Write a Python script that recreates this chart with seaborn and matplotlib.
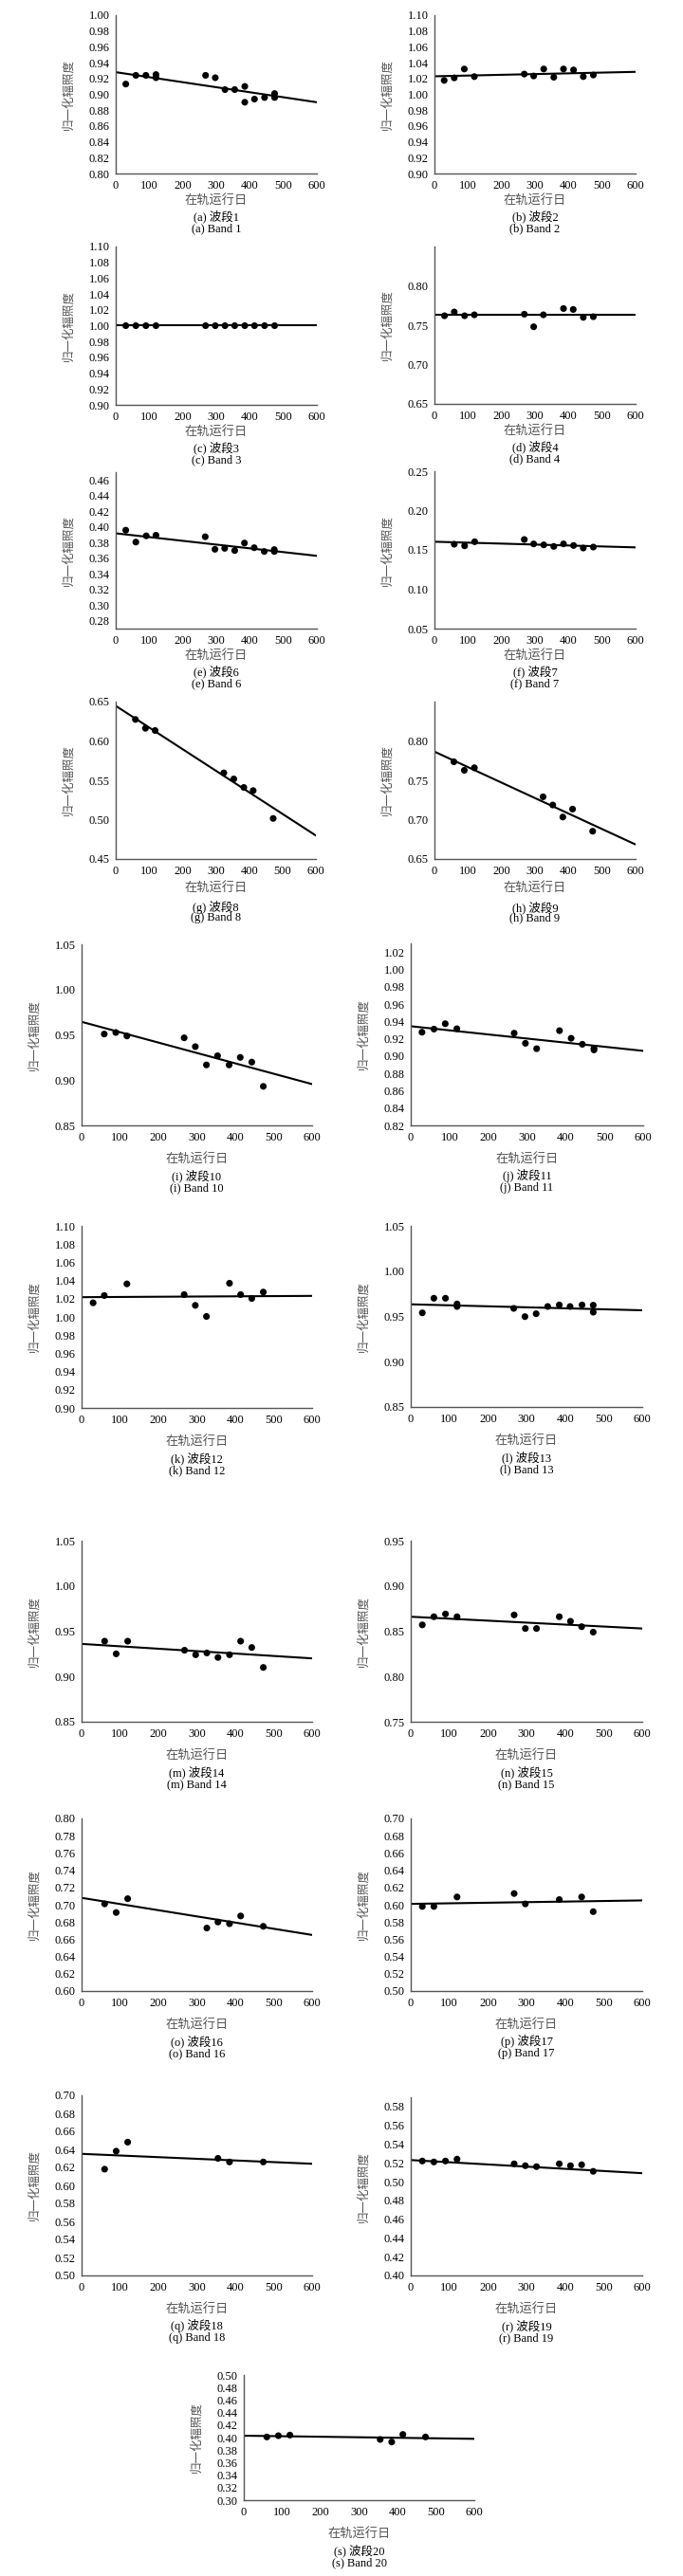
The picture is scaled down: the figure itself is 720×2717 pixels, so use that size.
import matplotlib
matplotlib.use("Agg")
import matplotlib.pyplot as plt
import seaborn as sns
import pandas as pd

sns.set_theme(style="white")
plt.rcParams['font.family'] = ['Liberation Serif', 'Noto Sans CJK SC', 'DejaVu Sans']

# ---------------- data ----------------
days_b1 = [30, 60, 90, 120, 120, 268, 297, 326, 355, 385, 385, 414, 444, 474, 474]
irr_b1 = [0.913, 0.924, 0.924, 0.925, 0.921, 0.924, 0.921, 0.906, 0.906, 0.910, 0.890, 0.894, 0.896, 0.901, 0.896]
days_b2 = [29, 59, 89, 119, 268, 296, 326, 356, 385, 415, 444, 474]
irr_b2 = [1.0176, 1.0208, 1.032, 1.0224, 1.0256, 1.0232, 1.032, 1.0216, 1.032, 1.0308, 1.0224, 1.0244]
days_b3 = [30, 60, 90, 120, 268, 297, 326, 355, 385, 414, 444, 474]
irr_b3 = [1.0] * 12
days_b4 = [30, 59, 90, 119, 268, 296, 325, 385, 414, 444, 474]
irr_b4 = [0.762, 0.7668, 0.762, 0.7632, 0.764, 0.748, 0.7632, 0.7712, 0.770, 0.760, 0.7608]
days_b6 = [30, 60, 91, 120, 267, 296, 325, 355, 384, 413, 443, 473, 473]
irr_b6 = [0.3958, 0.3806, 0.3886, 0.3894, 0.3874, 0.3714, 0.3726, 0.3698, 0.3794, 0.3734, 0.3686, 0.3710, 0.3686]
days_b7 = [59, 90, 120, 268, 296, 326, 356, 385, 415, 444, 474]
irr_b7 = [0.1572, 0.1552, 0.1604, 0.1632, 0.1576, 0.1564, 0.1544, 0.1576, 0.1556, 0.1524, 0.1536]
days_b8 = [59, 89, 118, 324, 354, 384, 412, 472]
irr_b8 = [0.6273, 0.6161, 0.6133, 0.5594, 0.5517, 0.5409, 0.5369, 0.5015]
days_b9 = [58, 89, 119, 324, 353, 383, 412, 472]
irr_b9 = [0.7735, 0.7627, 0.7659, 0.729, 0.7186, 0.7033, 0.7134, 0.6853]
days_b10 = [59, 89, 118, 267, 296, 325, 354, 384, 413, 443, 473]
irr_b10 = [0.9509, 0.9526, 0.9488, 0.9467, 0.937, 0.9168, 0.9269, 0.9168, 0.9251, 0.9199, 0.8931]
days_b11 = [29, 60, 89, 119, 267, 296, 325, 384, 414, 443, 473, 473]
irr_b11 = [0.9275, 0.9311, 0.9373, 0.9315, 0.9264, 0.9147, 0.9085, 0.9293, 0.9205, 0.9136, 0.9089, 0.9071]
days_b12 = [30, 59, 118, 267, 296, 325, 385, 414, 443, 473]
irr_b12 = [1.0155, 1.0235, 1.0363, 1.0245, 1.0127, 1.0005, 1.037, 1.0245, 1.0203, 1.0273]
days_b13 = [30, 60, 90, 120, 120, 267, 296, 325, 355, 385, 413, 444, 473, 473]
irr_b13 = [0.954, 0.9701, 0.9701, 0.9638, 0.961, 0.9589, 0.9498, 0.953, 0.961, 0.9627, 0.961, 0.9627, 0.9624, 0.9547]
days_b14 = [60, 90, 120, 268, 297, 326, 355, 385, 414, 443, 473]
irr_b14 = [0.939, 0.925, 0.939, 0.929, 0.924, 0.926, 0.921, 0.924, 0.939, 0.932, 0.910]
days_b15 = [30, 60, 90, 120, 268, 297, 326, 385, 414, 443, 473]
irr_b15 = [0.857, 0.866, 0.869, 0.866, 0.868, 0.853, 0.853, 0.866, 0.861, 0.855, 0.849]
days_b16 = [60, 90, 120, 326, 355, 385, 414, 473]
irr_b16 = [0.701, 0.691, 0.707, 0.673, 0.680, 0.678, 0.687, 0.675]
days_b17 = [30, 60, 120, 268, 297, 385, 443, 473]
irr_b17 = [0.598, 0.598, 0.609, 0.613, 0.601, 0.606, 0.609, 0.592]
days_b18 = [60, 90, 120, 355, 385, 473]
irr_b18 = [0.618, 0.638, 0.648, 0.630, 0.626, 0.626]
days_b19 = [30, 60, 90, 120, 268, 297, 326, 385, 414, 443, 473]
irr_b19 = [0.522, 0.521, 0.522, 0.524, 0.519, 0.517, 0.516, 0.519, 0.517, 0.518, 0.511]
days_b20 = [60, 90, 120, 355, 385, 414, 473]
irr_b20 = [0.401, 0.403, 0.404, 0.397, 0.393, 0.405, 0.401]

trend_days = [0, 600]
trend_b1 = [0.928, 0.890]
trend_b2 = [1.0228, 1.0284]
trend_b3 = [1.000, 1.000]
trend_b4 = [0.7628, 0.7628]
trend_b6 = [0.3918, 0.3630]
trend_b7 = [0.1604, 0.1532]
trend_b8 = [0.6446, 0.4798]
trend_b9 = [0.7864, 0.6684]
trend_b10 = [0.9644, 0.8956]
trend_b11 = [0.9344, 0.9060]
trend_b12 = [1.0217, 1.0231]
trend_b13 = [0.9634, 0.9568]
trend_b14 = [0.936, 0.920]
trend_b15 = [0.866, 0.853]
trend_b16 = [0.708, 0.665]
trend_b17 = [0.601, 0.605]
trend_b18 = [0.635, 0.624]
trend_b19 = [0.523, 0.509]
trend_b20 = [0.403, 0.398]

letters = ['a', 'b', 'c', 'd', 'e', 'f', 'g', 'h', 'i', 'j', 'k', 'l', 'm', 'n', 'o', 'p', 'q', 'r', 's']
band_numbers = [1, 2, 3, 4, 6, 7, 8, 9, 10, 11, 12, 13, 14, 15, 16, 17, 18, 19, 20]
x_ticks = [0, 100, 200, 300, 400, 500, 600]

days_all = [days_b1, days_b2, days_b3, days_b4, days_b6, days_b7, days_b8, days_b9, days_b10, days_b11,
            days_b12, days_b13, days_b14, days_b15, days_b16, days_b17, days_b18, days_b19, days_b20]
irr_all = [irr_b1, irr_b2, irr_b3, irr_b4, irr_b6, irr_b7, irr_b8, irr_b9, irr_b10, irr_b11,
           irr_b12, irr_b13, irr_b14, irr_b15, irr_b16, irr_b17, irr_b18, irr_b19, irr_b20]
trend_all = [trend_b1, trend_b2, trend_b3, trend_b4, trend_b6, trend_b7, trend_b8, trend_b9, trend_b10, trend_b11,
             trend_b12, trend_b13, trend_b14, trend_b15, trend_b16, trend_b17, trend_b18, trend_b19, trend_b20]

# y axis settings: (ymin, ymax, tick step, last tick)
y_axes = [
    (0.80, 1.00, 0.02, 1.00), (0.90, 1.10, 0.02, 1.10), (0.90, 1.10, 0.02, 1.10), (0.65, 0.85, 0.05, 0.80),
    (0.27, 0.47, 0.02, 0.46), (0.05, 0.25, 0.05, 0.25), (0.45, 0.65, 0.05, 0.65), (0.65, 0.85, 0.05, 0.80),
    (0.85, 1.05, 0.05, 1.05), (0.82, 1.03, 0.02, 1.02), (0.90, 1.10, 0.02, 1.10), (0.85, 1.05, 0.05, 1.05),
    (0.85, 1.05, 0.05, 1.05), (0.75, 0.95, 0.05, 0.95), (0.60, 0.80, 0.02, 0.80), (0.50, 0.70, 0.02, 0.70),
    (0.50, 0.70, 0.02, 0.70), (0.40, 0.59, 0.02, 0.58), (0.30, 0.50, 0.02, 0.50),
]
y_starts = [0.80, 0.90, 0.90, 0.65, 0.28, 0.05, 0.45, 0.65, 0.85, 0.82, 0.90, 0.85,
            0.85, 0.75, 0.60, 0.50, 0.50, 0.40, 0.30]

# ---------------- layout (pixels) ----------------
W, H = 720, 2717
boxes = [
    (122, 334, 16, 183), (458, 670, 16, 183),
    (122, 334, 260, 427), (458, 670, 260, 426),
    (122, 334, 498, 663), (458, 670, 497, 663),
    (122, 333, 740, 906), (458, 670, 740, 906),
    (86, 329, 996, 1187), (433, 678, 995, 1187),
    (86, 329, 1293, 1485), (433, 677, 1293, 1484),
    (86, 329, 1625, 1816), (433, 677, 1625, 1816),
    (86, 329, 1918, 2100), (433, 677, 1918, 2100),
    (86, 329, 2210, 2400), (433, 677, 2212, 2400),
    (257, 500, 2505, 2637),
]
offsets = [(29, 45, 58)] * 6 + [(31, 51, 62)] * 2 + [(36, 53, 66)] * 11

fig = plt.figure(figsize=(W / 100, H / 100), dpi=100)
fig.patch.set_facecolor('white')

spine_col = '#555555'
label_col = '#555555'
fs = 9

for i in range(19):
    l, r, t, b = boxes[i]
    ax = fig.add_axes([l / W, (H - b) / H, (r - l) / W, (b - t) / H])
    ax.set_facecolor('white')
    df = pd.DataFrame({'day': days_all[i], 'irr': irr_all[i]})
    tdf = pd.DataFrame({'day': trend_days, 'irr': trend_all[i]})
    sns.lineplot(data=tdf, x='day', y='irr', ax=ax, color='black', linewidth=1.5, zorder=2)
    sns.scatterplot(data=df, x='day', y='irr', ax=ax, color='black', s=26, edgecolor='none', zorder=3)
    ymin, ymax, step, last = y_axes[i]
    ax.set_xlim(0, 600)
    ax.set_ylim(ymin, ymax)
    n = int(round((last - y_starts[i]) / step)) + 1
    yt = [y_starts[i] + k * step for k in range(n)]
    ax.set_yticks(yt)
    ax.set_yticklabels([f"{v:.2f}" for v in yt])
    ax.set_xticks(x_ticks)
    ax.set_xticklabels([str(v) for v in x_ticks])
    ax.set_xlabel('')
    ax.set_ylabel('')
    for s in ['top', 'right']:
        ax.spines[s].set_visible(False)
    for s in ['left', 'bottom']:
        ax.spines[s].set_color(spine_col)
        ax.spines[s].set_linewidth(1.0)
    ax.tick_params(axis='both', which='major', direction='out', length=3, width=0.8,
                   color=spine_col, labelsize=fs, labelcolor='black', pad=1.5)
    ax.tick_params(axis='x', pad=2)

    cx = (l + r) / 2 / W
    o1, o2, o3 = offsets[i]
    fig.text(cx, (H - (b + o1)) / H, '在轨运行日', ha='center', va='center', fontsize=fs + 0.5, color=label_col)
    fig.text(cx, (H - (b + o2)) / H, f'({letters[i]}) 波段{band_numbers[i]}', ha='center', va='center',
             fontsize=fs, color='black')
    fig.text(cx, (H - (b + o3)) / H, f'({letters[i]}) Band {band_numbers[i]}', ha='center', va='center',
             fontsize=fs, color='black')
    fig.text((l - 50) / W, (H - (t + b) / 2) / H, '归一化辐照度', rotation=90, ha='center', va='center',
             fontsize=fs, color=label_col)

fig.savefig('out.png', dpi=100, facecolor='white')
